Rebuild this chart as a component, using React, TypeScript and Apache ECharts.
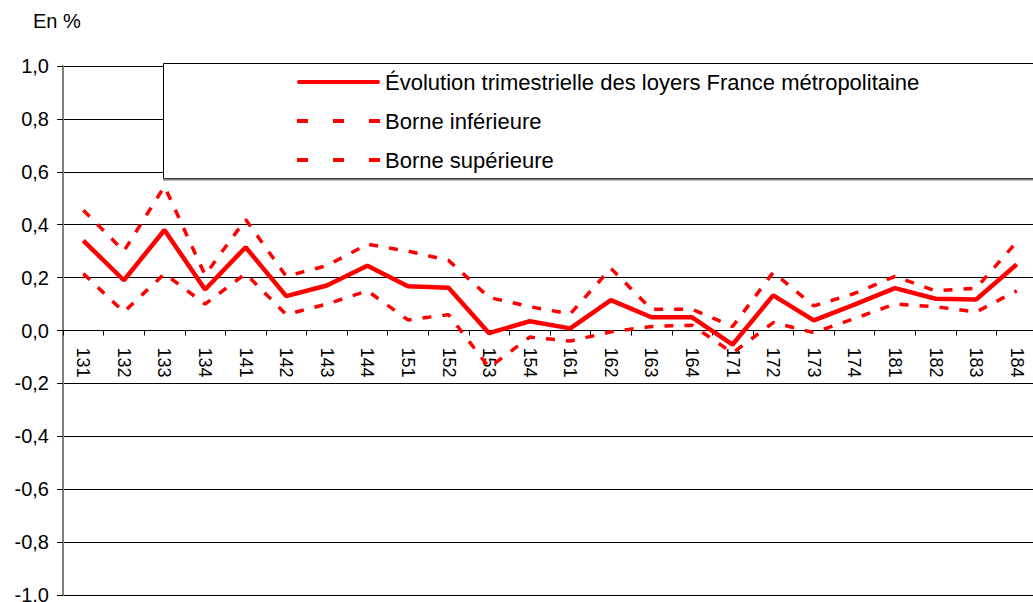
import React, { useEffect, useRef } from "react";
import * as echarts from "echarts";

const categories = ["131","132","133","134","141","142","143","144","151","152","153","154","161","162","163","164","171","172","173","174","181","182","183","184"];
const evolution = [0.34,0.19,0.38,0.155,0.315,0.13,0.17,0.245,0.167,0.162,-0.01,0.035,0.008,0.115,0.05,0.05,-0.053,0.133,0.038,0.098,0.16,0.12,0.117,0.25];
const borneInf = [0.215,0.07,0.215,0.10,0.215,0.06,0.10,0.15,0.04,0.06,-0.14,-0.025,-0.04,-0.005,0.015,0.02,-0.085,0.03,-0.008,0.045,0.10,0.09,0.07,0.15];
const borneSup = [0.455,0.30,0.545,0.21,0.42,0.205,0.245,0.326,0.30,0.265,0.125,0.09,0.063,0.235,0.08,0.08,0.015,0.22,0.093,0.14,0.205,0.15,0.16,0.335];
const seriesNames = ["Évolution trimestrielle des loyers France métropolitaine", "Borne inférieure", "Borne supérieure"];
const unitLabel = "En %";

const FONT = "'Liberation Sans', Arial, sans-serif";

export default function App() {
  const ref = useRef<HTMLDivElement>(null);
  useEffect(() => {
    if (!ref.current) return;
    const chart = echarts.init(ref.current, undefined, { renderer: "svg" });
    const dash = [9, 11];
    const dashIcon = "path://M0,0h11v4h-11z M36,0h11v4h-11z M72,0h11v4h-11z";
    const solidIcon = "path://M2,0h79a2,2 0 0 1 0,4h-79a2,2 0 0 1 0,-4z";
    chart.setOption({
      animation: false,
      textStyle: { fontFamily: FONT },
      grid: { left: 63, right: -4, top: 66, bottom: 7, containLabel: false, outerBoundsMode: "none" },
      xAxis: {
        type: "category",
        data: categories,
        boundaryGap: true,
        offset: -264.5,
        axisLine: { onZero: false, lineStyle: { color: "#000", width: 1 } },
        axisTick: { show: true, length: 5, inside: false, alignWithLabel: false, lineStyle: { color: "#000" } },
        axisLabel: { rotate: -90, fontSize: 18, color: "#000", margin: 17, fontFamily: FONT, interval: 0 },
        splitLine: { show: false },
      },
      yAxis: {
        type: "value",
        min: -1,
        max: 1,
        interval: 0.2,
        axisLine: { show: true, onZero: false, lineStyle: { color: "#808080", width: 2 } },
        axisTick: { show: true, length: 6, lineStyle: { color: "#000" } },
        axisLabel: {
          fontSize: 20,
          color: "#000",
          margin: 14,
          fontFamily: FONT,
          formatter: (v: number) => v.toFixed(1).replace(".", ","),
        },
        splitLine: { show: true, lineStyle: { color: "#000", width: 1 } },
      },
      legend: {
        orient: "vertical",
        left: 297,
        top: 71,
        itemWidth: 83,
        itemHeight: 4,
        itemGap: 17,
        padding: 0,
        z: 10,
        textStyle: { fontSize: 22, color: "#000", fontFamily: FONT },
        data: [
          { name: seriesNames[0], icon: solidIcon },
          { name: seriesNames[1], icon: dashIcon },
          { name: seriesNames[2], icon: dashIcon },
        ],
      },
      graphic: [
        { type: "text", left: 33, top: 11, z: 10, style: { text: unitLabel, fontSize: 20, fill: "#000", fontFamily: FONT } },
        { type: "rect", z: 5, shape: { x: 163.5, y: 63.5, width: 900, height: 115 }, style: { fill: "#fff", stroke: "#000", lineWidth: 1 } },
        { type: "line", z: 6, shape: { x1: 163, y1: 179.5, x2: 1040, y2: 179.5 }, style: { stroke: "#808080", lineWidth: 2 } },
      ],
      series: [
        {
          name: seriesNames[1], type: "line", data: borneInf, symbol: "none", z: 2,
          color: "#ff0000", lineStyle: { color: "#ff0000", width: 3.5, type: dash },
        },
        {
          name: seriesNames[2], type: "line", data: borneSup, symbol: "none", z: 2,
          color: "#ff0000", lineStyle: { color: "#ff0000", width: 3.5, type: dash },
        },
        {
          name: seriesNames[0], type: "line", data: evolution, symbol: "none", z: 3,
          color: "#ff0000", lineStyle: { color: "#ff0000", width: 4.5, type: "solid" },
        },
      ],
    });
    return () => chart.dispose();
  }, []);
  return <div ref={ref} style={{ position: "absolute", left: 0, top: 0, width: 1033, height: 602 }} />;
}
